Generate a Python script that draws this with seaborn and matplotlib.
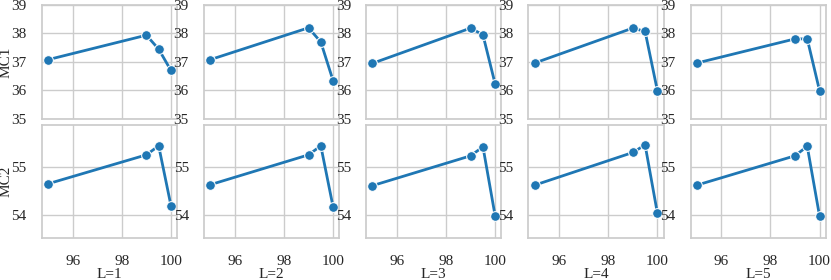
import numpy as np
import pandas as pd
import matplotlib.pyplot as plt
import seaborn as sns

# x positions (percent)
x_vals = [95, 99, 99.5, 100]
layers = ["L=1", "L=2", "L=3", "L=4", "L=5"]

mc1 = {
    "L=1": [37.08, 37.94, 37.45, 36.70],
    "L=2": [37.08, 38.20, 37.70, 36.34],
    "L=3": [36.95, 38.19, 37.95, 36.21],
    "L=4": [36.96, 38.19, 38.07, 35.99],
    "L=5": [36.96, 37.81, 37.81, 35.99],
}
mc2 = {
    "L=1": [54.65, 55.26, 55.45, 54.19],
    "L=2": [54.63, 55.26, 55.45, 54.16],
    "L=3": [54.61, 55.24, 55.43, 53.96],
    "L=4": [54.62, 55.31, 55.47, 54.03],
    "L=5": [54.62, 55.24, 55.44, 53.97],
}

rows = []
for metric, table in [("MC1", mc1), ("MC2", mc2)]:
    for layer in layers:
        for x, y in zip(x_vals, table[layer]):
            rows.append({"metric": metric, "layer": layer, "x": x, "y": y})
df = pd.DataFrame(rows)

sns.set_theme(style="whitegrid")
plt.rcParams['font.family'] = ['Liberation Serif', 'DejaVu Serif']

fig, axes = plt.subplots(2, 5, figsize=(8.31, 2.80), dpi=100, sharex=True, sharey='row')
fig.subplots_adjust(left=0.0505, right=0.9936, top=0.982, bottom=0.149,
                    wspace=0.2, hspace=0.05)

for r, metric in enumerate(["MC1", "MC2"]):
    for c, layer in enumerate(layers):
        ax = axes[r, c]
        sub = df[(df.metric == metric) & (df.layer == layer)]
        sns.lineplot(data=sub, x="x", y="y", marker="o", color="#1f77b4",
                     linewidth=2, markersize=7, ax=ax)
        ax.tick_params(axis="y", labelleft=True, labelsize=11, pad=5)
        ax.tick_params(axis="x", labelsize=11, pad=6)
        ax.set_xlabel(layer if r == 1 else "", fontsize=11, labelpad=0)
        if c == 0:
            ax.set_ylabel(metric, fontsize=11)
            ax.yaxis.set_label_coords(-0.215, 0.5)
        else:
            ax.set_ylabel("")
        for s in ax.spines.values():
            s.set_color("#cccccc")
        if r == 0:
            ax.set_ylim(35, 39)
            ax.set_yticks([35, 36, 37, 38, 39])
        else:
            ax.set_ylim(53.5, 55.9)
            ax.set_yticks([54, 55])
        ax.set_xticks([96, 98, 100])

fig.savefig("out.png", dpi=100)
